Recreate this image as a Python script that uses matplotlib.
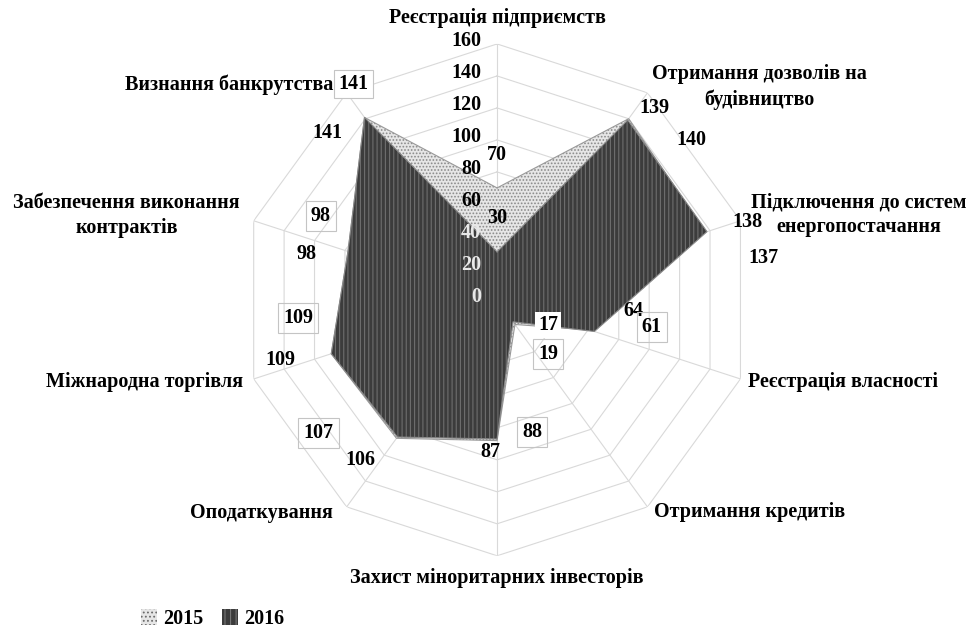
import numpy as np
import matplotlib
matplotlib.use("Agg")
import matplotlib.pyplot as plt
from matplotlib.patches import Patch

categories = [
    "Реєстрація підприємств",
    "Отримання дозволів на\nбудівництво",
    "Підключення до систем\nенергопостачання",
    "Реєстрація власності",
    "Отримання кредитів",
    "Захист міноритарних інвесторів",
    "Оподаткування",
    "Міжнародна торгівля",
    "Забезпечення виконання\nконтрактів",
    "Визнання банкрутства",
]
values_2015 = [70, 140, 137, 61, 19, 88, 107, 109, 98, 141]
values_2016 = [30, 139, 138, 64, 17, 87, 106, 109, 98, 141]
r_ticks = [0, 20, 40, 60, 80, 100, 120, 140, 160]
series_names = ["2015", "2016"]

# layout (pixel offsets from vertices)
off_2016 = [(0, 34), (27, 12), (40, 10), (39, 21), (35, -3), (-7, -13), (-37, -23), (-51, -6), (-41, -3), (-11, 33)]
off_2015 = [(0, 33), (63, -21), (58, -26), (62, 3), (33, -30), (35, 9), (-78, 5), (-33, 36), (-27, 35), (-37, -16)]
cat_off = [(0, 26), (112, 6), (118, 6), (103, -3), (102, -5),
           (0, -22), (-85, -6), (-109, -3), (-127, 5), (-117, 8)]
line_step = 25

plt.rcParams['font.family'] = ['Liberation Serif', 'DejaVu Serif']
plt.rcParams['font.weight'] = 'bold'
plt.rcParams['hatch.linewidth'] = 0.8

fig = plt.figure(figsize=(9.68, 6.28), dpi=100)
ax = fig.add_axes([0.249, 0.115, 0.529, 0.815], projection='polar')
ax.set_theta_zero_location('N')
ax.set_theta_direction(-1)
ax.set_ylim(0, r_ticks[-1])
ax.grid(False)
ax.spines['polar'].set_visible(False)
ax.set_xticks([])
ax.set_yticks([])
ax.patch.set_alpha(0)

n = len(categories)
theta = np.arange(n) * 2 * np.pi / n
theta_c = np.append(theta, theta[0])

# grid decagons and spokes
for rt in r_ticks[1:]:
    ax.plot(theta_c, [rt] * (n + 1), color='#d9d9d9', lw=0.8, zorder=1)
for t in theta:
    ax.plot([t, t], [0, r_ticks[-1]], color='#d9d9d9', lw=0.8, zorder=1)

v15 = np.append(values_2015, values_2015[0])
v16 = np.append(values_2016, values_2016[0])

ax.fill(theta_c, v15, facecolor='#e6e6e6', edgecolor='#8a8a8a', hatch='.....', lw=0, zorder=2)
ax.plot(theta_c, v15, color='#9a9a9a', lw=0.8, zorder=2)
ax.fill(theta_c, v16, facecolor='#3c3c3c', edgecolor='#6e6e6e', hatch='||||', lw=0, zorder=3)
ax.plot(theta_c, v16, color='#8a8a8a', lw=0.8, zorder=3)

# radial tick labels
for rt in r_ticks:
    col = '#e8e8e8' if rt <= 40 else 'black'
    ax.annotate(str(rt), xy=(0, rt), xytext=(-16, 3), textcoords='offset pixels',
                ha='right', va='center', fontsize=14.5, color=col, zorder=5)

box_2016 = {9: 'square,pad=0.2', 4: 'square,pad=0.15'}
box_2015 = [3, 4, 5, 6, 7, 8]

# value labels
for i in range(n):
    bb16 = None
    if i in box_2016:
        bb16 = dict(boxstyle=box_2016[i], fc='white', ec='#c4c4c4' if i == 9 else 'none', lw=0.8)
    ax.annotate(str(values_2016[i]), xy=(theta[i], values_2016[i]), xytext=off_2016[i],
                textcoords='offset pixels', ha='center', va='center', fontsize=14.5, zorder=6, bbox=bb16)
    bb15 = dict(boxstyle='square,pad=0.25', fc='none', ec='#c4c4c4', lw=0.8) if i in box_2015 else None
    ax.annotate(str(values_2015[i]), xy=(theta[i], values_2015[i]), xytext=off_2015[i],
                textcoords='offset pixels', ha='center', va='center', fontsize=14.5, zorder=6, bbox=bb15)

# category labels (each line as its own text)
for i in range(n):
    dx, dy = cat_off[i]
    lines = categories[i].split('\n')
    k = len(lines)
    for j, line in enumerate(lines):
        ly = dy + ((k - 1) / 2 - j) * line_step
        ax.annotate(line, xy=(theta[i], r_ticks[-1]), xytext=(dx, ly), textcoords='offset pixels',
                    ha='center', va='center', fontsize=14.5, zorder=6, annotation_clip=False)

handles = [Patch(facecolor='#e6e6e6', edgecolor='#6a6a6a', hatch='....', lw=0),
           Patch(facecolor='#3c3c3c', edgecolor='#777777', hatch='|||', lw=0)]
fig.legend(handles, series_names, loc='center left', bbox_to_anchor=(127 / 968, 1 - 619 / 628),
           ncol=2, frameon=False, handlelength=0.8, handleheight=0.8, handletextpad=0.3,
           columnspacing=0.9, borderpad=0.2, prop={'size': 14.5, 'weight': 'bold'})

fig.savefig('out.png', dpi=100)
